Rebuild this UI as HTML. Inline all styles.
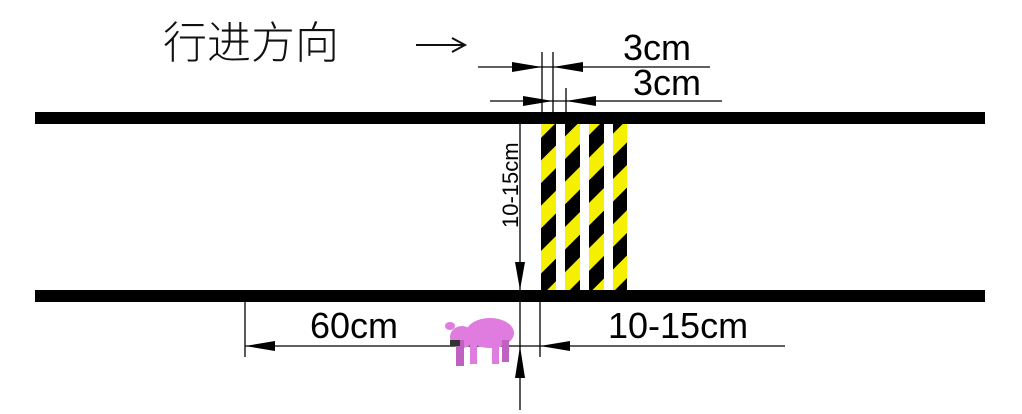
<!DOCTYPE html>
<html><head><meta charset="utf-8"><style>
html,body{margin:0;padding:0;background:#fff;}
svg{display:block;font-family:"Liberation Sans","Noto Sans CJK SC",sans-serif;}
</style></head><body>
<svg width="1022" height="414" viewBox="0 0 1022 414">
<defs>
<pattern id="hz" patternUnits="userSpaceOnUse" width="32" height="32" patternTransform="rotate(-45)">
<rect width="32" height="32" fill="#f5f000"/><rect width="32" height="16" fill="#000"/>
</pattern>
</defs>
<text x="163" y="58" font-size="44" font-weight="300" fill="#111">行进方向</text>
<g stroke="#111" stroke-width="2" fill="none">
<line x1="416" y1="45" x2="464" y2="45"/>
<polyline points="452,38 465,45 452,52"/>
</g>
<rect x="35" y="112" width="950" height="12" fill="#000"/>
<rect x="35" y="290" width="950" height="12" fill="#000"/>
<g>
<rect x="541" y="124" width="15" height="166" fill="url(#hz)"/>
<rect x="565" y="124" width="15" height="166" fill="url(#hz)"/>
<rect x="589" y="124" width="15" height="166" fill="url(#hz)"/>
<rect x="613" y="124" width="14" height="166" fill="url(#hz)"/>
</g>
<g stroke="#000" stroke-width="1.3" fill="none">
<line x1="478" y1="67" x2="710" y2="67"/>
<line x1="542" y1="52" x2="542" y2="112"/>
<line x1="553" y1="52" x2="553" y2="112"/>
<line x1="490" y1="101" x2="722" y2="101"/>
<line x1="566" y1="88" x2="566" y2="112"/>
<line x1="520" y1="124" x2="520" y2="290"/>
<line x1="520" y1="302" x2="520" y2="410"/>
<line x1="540" y1="302" x2="540" y2="357"/>
<line x1="245" y1="302" x2="245" y2="357"/>
<line x1="245" y1="346" x2="785" y2="346"/>
</g>
<g fill="#000">
<polygon points="542,67 512,62 512,72"/>
<polygon points="553,67 583,62 583,72"/>
<polygon points="553,101 523,96 523,106"/>
<polygon points="566,101 596,96 596,106"/>
<polygon points="520,290 515,262 525,262"/>
<polygon points="520,346 515,378 525,378"/>
<polygon points="245,346 275,341 275,351"/>
<polygon points="540,346 570,341 570,351"/>
</g>
<text x="623" y="60" font-size="36">3cm</text>
<text x="633" y="95" font-size="36">3cm</text>
<text transform="translate(518,228) rotate(-90)" font-size="22">10-15cm</text>
<text x="310" y="338" font-size="36">60cm</text>
<text x="608" y="338" font-size="36">10-15cm</text>
<g fill="#e07ce0">
<ellipse cx="490" cy="333" rx="24" ry="15"/>
<ellipse cx="462" cy="337" rx="12" ry="11"/>
<ellipse cx="450" cy="326" rx="5" ry="4"/>
<rect x="456" y="340" width="8" height="26" fill="#c060c0"/>
<rect x="470" y="342" width="7" height="22"/>
<rect x="492" y="342" width="7" height="22"/>
<rect x="502" y="340" width="7" height="22" fill="#c060c0"/>
<rect x="450" y="340" width="10" height="6" fill="#333"/>
</g>
</svg>
</body></html>
